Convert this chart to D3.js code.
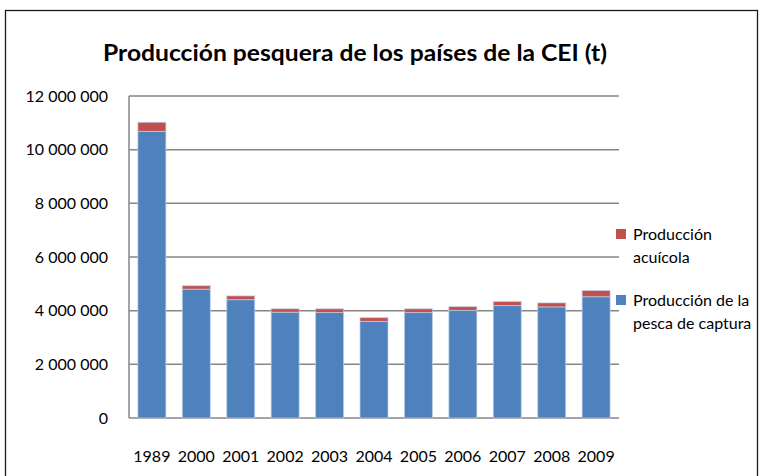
<!DOCTYPE html>
<html>
<head>
<meta charset="utf-8">
<script src="https://cdn.jsdelivr.net/npm/d3@7"></script>
<style>
  body { margin: 0; background: #fff; }
  text { font-family: Lato, "Open Sans", sans-serif; fill: #000; }
</style>
</head>
<body>
<div id="chart"></div>
<script>
// data
var years = ["1989", "2000", "2001", "2002", "2003", "2004", "2005", "2006", "2007", "2008", "2009"];
var captura = [10680000, 4800000, 4410000, 3940000, 3930000, 3600000, 3930000, 4010000, 4190000, 4140000, 4520000];
var acuicola = [340000, 130000, 140000, 130000, 140000, 140000, 140000, 140000, 150000, 150000, 230000];
var yTicks = [0, 2000000, 4000000, 6000000, 8000000, 10000000, 12000000];
var seriesNames = ["Producción de la pesca de captura", "Producción acuícola"];

var chart_width = 764;
var chart_height = 476;
var plotLeft = 129, plotRight = 619, plotTop = 96, plotBottom = 418;

var svg = d3
  .select("#chart")
  .append("svg")
  .attr("width", chart_width)
  .attr("height", chart_height);

// outer frame
svg
  .append("rect")
  .attr("x", 5.5)
  .attr("y", 10.5)
  .attr("width", 752)
  .attr("height", 480)
  .attr("fill", "none")
  .attr("stroke", "#1a1a1a")
  .attr("stroke-width", 1.3);

// title
svg
  .append("text")
  .attr("x", 355)
  .attr("y", 61)
  .attr("text-anchor", "middle")
  .attr("font-size", 23)
  .attr("font-weight", "bold")
  .attr("textLength", 504)
  .attr("lengthAdjust", "spacingAndGlyphs")
  .text("Producción pesquera de los países de la CEI (t)");

var table = years.map(function(y, i) {
  return { year: y, captura: captura[i], acuicola: acuicola[i] };
});
var stacked = d3.stack().keys(["captura", "acuicola"])(table);

var x_scale = d3
  .scaleBand()
  .domain(years)
  .range([plotLeft, plotRight])
  .paddingInner(0.37)
  .paddingOuter(0.2);

var y_scale = d3
  .scaleLinear()
  .domain([0, 12000000])
  .range([plotBottom, plotTop]);

// gridlines
svg
  .append("g")
  .selectAll("line")
  .data(yTicks)
  .enter()
  .append("line")
  .attr("x1", plotLeft)
  .attr("x2", plotRight)
  .attr("y1", function(d) { return y_scale(d); })
  .attr("y2", function(d) { return y_scale(d); })
  .attr("stroke", "#868686")
  .attr("stroke-width", 1.5);

// left axis line
svg
  .append("line")
  .attr("x1", plotLeft)
  .attr("x2", plotLeft)
  .attr("y1", plotTop)
  .attr("y2", plotBottom)
  .attr("stroke", "#868686")
  .attr("stroke-width", 1.5);

var colors = { captura: "#4F81BD", acuicola: "#C0504D" };

svg
  .append("g")
  .selectAll("g")
  .data(stacked)
  .enter()
  .append("g")
  .attr("fill", function(d) { return colors[d.key]; })
  .selectAll("rect")
  .data(function(d) { return d; })
  .enter()
  .append("rect")
  .attr("x", function(d) { return x_scale(d.data.year); })
  .attr("y", function(d) { return y_scale(d[1]); })
  .attr("width", x_scale.bandwidth())
  .attr("height", function(d) { return y_scale(d[0]) - y_scale(d[1]); })
  .attr("stroke", "rgba(190,210,235,0.7)")
  .attr("stroke-width", 1);

// y tick labels
var fmt = function(d) { return d3.format(",")(d).replace(/,/g, " "); };
svg
  .append("g")
  .selectAll("text")
  .data(yTicks)
  .enter()
  .append("text")
  .attr("x", 108)
  .attr("y", function(d) { return y_scale(d); })
  .attr("dy", "0.35em")
  .attr("text-anchor", "end")
  .attr("font-size", 16)
  .text(fmt);

// x labels
svg
  .append("g")
  .selectAll("text")
  .data(years)
  .enter()
  .append("text")
  .attr("x", function(d) { return x_scale(d) + x_scale.bandwidth() / 2; })
  .attr("y", 462)
  .attr("text-anchor", "middle")
  .attr("font-size", 16)
  .text(function(d) { return d; });

// legend
var legend = [
  { color: colors.acuicola, lines: ["Producción", "acuícola"], y: 229 },
  { color: colors.captura, lines: ["Producción de la", "pesca de captura"], y: 295 }
];
var lg = svg
  .append("g")
  .selectAll("g")
  .data(legend)
  .enter()
  .append("g");
lg.append("rect")
  .attr("x", 616)
  .attr("y", function(d) { return d.y; })
  .attr("width", 10)
  .attr("height", 10)
  .attr("fill", function(d) { return d.color; });
lg.each(function(d) {
  var g = d3.select(this);
  d.lines.forEach(function(t, i) {
    g.append("text")
      .attr("x", 633)
      .attr("y", d.y + 5 + i * 23)
      .attr("dy", "0.35em")
      .attr("font-size", 16)
      .text(t);
  });
});
</script>
</body>
</html>
